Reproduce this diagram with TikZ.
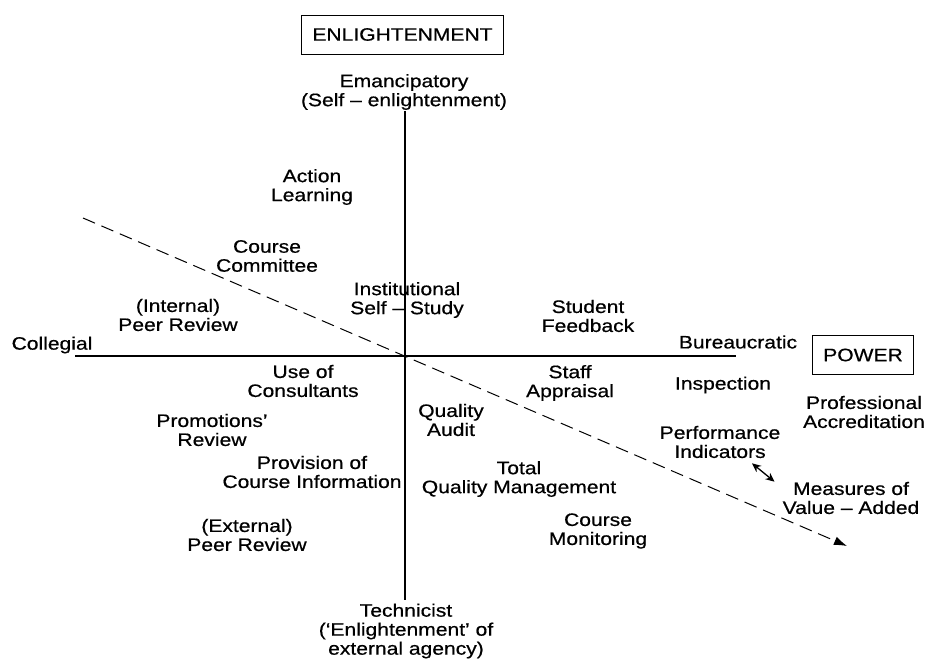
\documentclass[tikz,border=0pt]{standalone}
\usepackage{fontspec}
\setmainfont{Liberation Sans}[FakeStretch=1.17, FakeBold=0.6]
\usetikzlibrary{arrows.meta}

\begin{document}
\begin{tikzpicture}[x=1pt, y=-1pt,
    every node/.style={font=\fontsize{18}{19}\selectfont, align=center, inner sep=0pt},
    pole/.style={draw, line width=0.9pt, inner xsep=11pt, minimum height=39pt},
    axis/.style={line width=1.1pt},
    trend/.style={line width=1pt, dash pattern=on 13pt off 7pt, -{Latex[length=13pt,width=9pt]}},
    link/.style={line width=1.3pt, {Stealth[length=9pt,width=8pt]}-{Stealth[length=9pt,width=8pt]}}]
\useasboundingbox (0,0) rectangle (928,658);
% axes
\coordinate (top) at (405,111);
\coordinate (bottom) at (405,600);
\coordinate (left) at (75,356);
\coordinate (right) at (736,356);
\coordinate (dstart) at (83,218);
\coordinate (dend) at (847,546);
\draw[axis] (top) -- (bottom);
\draw[axis] (left) -- (right);
\draw[trend] (dstart) -- (dend);
% poles
\node[pole] (enl) at (402.5,34.5) {ENLIGHTENMENT};
\node[pole] (power) at (863,355) {POWER};
\node (emanc) at (404,92) {Emancipatory\\(Self -- enlightenment)};
\node (technicist) at (406,631) {Technicist\\(`Enlightenment' of\\external agency)};
\node (collegial) at (52,345) {Collegial};
\node (bureau) at (738,342) {Bureaucratic};
% upper left
\node (action) at (312,187) {Action\\Learning};
\node (committee) at (267,256) {Course\\Committee};
\node (intpeer) at (178,315) {(Internal)\\Peer Review};
\node (inststudy) at (407,300) {Institutional\\Self -- Study};
% upper right
\node (student) at (588,316) {Student\\Feedback};
% lower left
\node (consult) at (303,381) {Use of\\Consultants};
\node (promo) at (212,430) {Promotions'\\Review};
\node (provision) at (312,472) {Provision of\\Course Information};
\node (extpeer) at (247,535) {(External)\\Peer Review};
% lower right
\node (staff) at (570,383) {Staff\\Appraisal};
\node (inspection) at (723,385) {Inspection};
\node (prof) at (864,412) {Professional\\Accreditation};
\node (qaudit) at (451,420) {Quality\\Audit};
\node (perf) at (720,442) {Performance\\Indicators};
\node (tqm) at (519,479) {Total\\Quality Management};
\node (meas) at (851,498) {Measures of\\Value -- Added};
\node (monitor) at (598,531) {Course\\Monitoring};
\draw[link] ([xshift=32pt,yshift=-5pt]perf.south) -- ([xshift=-8pt]meas.north west);
\end{tikzpicture}
\end{document}
